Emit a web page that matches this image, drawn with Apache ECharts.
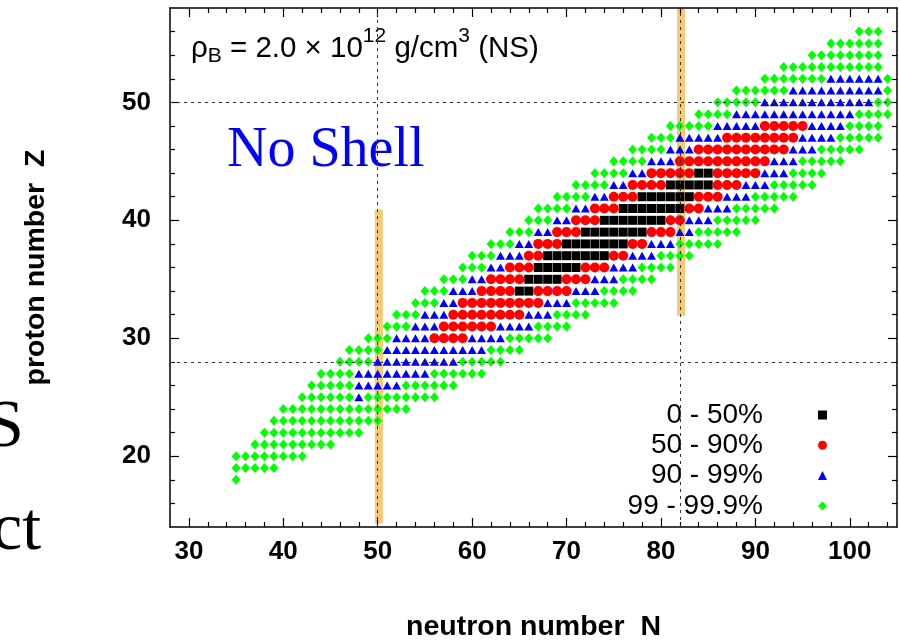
<!DOCTYPE html>
<html>
<head>
<meta charset="utf-8">
<script src="https://cdn.jsdelivr.net/npm/echarts@6/dist/echarts.min.js"></script>
<style>
  html, body { margin: 0; padding: 0; background: #ffffff; }
  #chart { width: 900px; height: 643px; }
</style>
</head>
<body>
<div id="chart"></div>
<script>
// Axis ranges and ticks
const nRange = [28, 105];
const zRange = [14, 58];
const nMajorTicks = [30, 40, 50, 60, 70, 80, 90, 100];
const nMinorTicks = [32, 34, 36, 38, 42, 44, 46, 48, 52, 54, 56, 58, 62, 64, 66, 68,
                     72, 74, 76, 78, 82, 84, 86, 88, 92, 94, 96, 98, 102, 104];
const zMajorTicks = [20, 30, 40, 50];
const zMinorTicks = [16, 18, 22, 24, 26, 28, 32, 34, 36, 38, 42, 44, 46, 48, 52, 54, 56];

// Magic numbers (dashed guide lines) and highlighted shell closures
const magicN = [50, 82];
const magicZ = [28, 50];
const shellN = [50, 82];
const shellZSpan = [[14.3, 40.9], [31.9, 58.5]];

const bandLabels = ['0 - 50%', '50 - 90%', '90 - 99%', '99 - 99.9%'];

// Nuclei in each cumulative-abundance band, as runs [Z, first N, last N]
const runs0to50 = [
  [34, 65, 66], [35, 66, 69], [36, 67, 71], [37, 68, 74], [38, 70, 76], [39, 72, 78],
  [40, 74, 80], [41, 76, 82], [42, 78, 83], [43, 81, 85], [44, 84, 85]
];
const runs50to90 = [
  [30, 56, 59], [31, 57, 62], [32, 58, 65], [33, 59, 67],
  [34, 61, 64], [34, 67, 70], [35, 62, 65], [35, 70, 72], [36, 64, 66], [36, 72, 74],
  [37, 66, 67], [37, 75, 76], [38, 67, 69], [38, 77, 78], [39, 69, 71], [39, 79, 81],
  [40, 71, 73], [40, 81, 82], [41, 73, 75], [41, 83, 84], [42, 75, 77], [42, 84, 86],
  [43, 77, 80], [43, 86, 88], [44, 79, 83], [44, 86, 90],
  [45, 82, 91], [46, 84, 93], [47, 87, 94], [48, 91, 95]
];
const runs90to99 = [
  [25, 48, 48], [26, 48, 52], [27, 48, 55], [28, 50, 58], [29, 51, 61],
  [30, 52, 55], [30, 60, 63], [31, 54, 56], [31, 63, 66], [32, 55, 57], [32, 66, 68],
  [33, 57, 58], [33, 68, 70], [34, 58, 60], [34, 71, 73], [35, 60, 61], [35, 73, 75],
  [36, 62, 63], [36, 75, 77], [37, 63, 65], [37, 77, 79], [38, 65, 66], [38, 79, 81],
  [39, 67, 68], [39, 82, 83], [40, 69, 70], [40, 83, 85], [41, 71, 72], [41, 85, 87],
  [42, 73, 74], [42, 87, 89], [43, 75, 76], [43, 89, 91], [44, 77, 78], [44, 91, 93],
  [45, 79, 81], [45, 92, 94], [46, 81, 83], [46, 94, 96], [47, 82, 86], [47, 95, 98],
  [48, 86, 90], [48, 96, 99], [49, 88, 100], [50, 91, 102], [51, 94, 103], [52, 98, 103]
];
const runs99to999 = [
  [18, 35, 35], [19, 35, 39], [20, 35, 42], [21, 37, 45], [22, 38, 48], [23, 39, 50],
  [24, 40, 53], [25, 42, 47], [25, 49, 56], [26, 43, 47], [26, 53, 58],
  [27, 44, 47], [27, 56, 61], [28, 46, 49], [28, 59, 63], [29, 47, 50], [29, 62, 65],
  [30, 49, 51], [30, 64, 68], [31, 51, 53], [31, 67, 70], [32, 52, 54], [32, 69, 72],
  [33, 54, 56], [33, 71, 75], [34, 55, 57], [34, 74, 77], [35, 57, 59], [35, 76, 79],
  [36, 59, 61], [36, 78, 81], [37, 60, 62], [37, 80, 83], [38, 62, 64], [38, 82, 86],
  [39, 64, 66], [39, 84, 88], [40, 66, 68], [40, 86, 90], [41, 67, 70], [41, 88, 92],
  [42, 69, 72], [42, 90, 94], [43, 71, 74], [43, 92, 96], [44, 73, 76], [44, 94, 97],
  [45, 75, 78], [45, 95, 99], [46, 77, 80], [46, 97, 101], [47, 79, 81], [47, 99, 103],
  [48, 81, 85], [48, 100, 103], [49, 84, 87], [49, 101, 104], [50, 86, 90], [50, 103, 104],
  [51, 88, 93], [51, 104, 104], [52, 91, 97], [52, 104, 104],
  [53, 93, 103], [54, 96, 103], [55, 98, 103], [56, 101, 103]
];

// Turn [Z, N1, N2] runs into individual (N, Z) points
function toPoints(runs) {
  const pts = [];
  runs.forEach(([z, n1, n2]) => {
    for (let n = n1; n <= n2; n++) pts.push([n, z]);
  });
  return pts;
}

const sansFont = "'Liberation Sans', Arial, Helvetica, sans-serif";
const serifFont = "'Liberation Serif', 'Times New Roman', serif";

function valueAxis(kind, position, ticks, tickLen, withLine, withLabels) {
  const isX = kind === 'x';
  const ax = {
    type: 'value',
    position: position,
    min: isX ? nRange[0] : zRange[0],
    max: isX ? nRange[1] : zRange[1],
    axisLine: { show: withLine, onZero: false, lineStyle: { color: '#000', width: 1.5 } },
    axisTick: { show: true, inside: true, length: tickLen, customValues: ticks,
                lineStyle: { color: '#000', width: 1.2 } },
    axisLabel: { show: false },
    splitLine: { show: false },
    minorTick: { show: false },
    z: 3
  };
  if (withLabels) {
    ax.axisLabel = {
      show: true, customValues: ticks, color: '#000', fontFamily: sansFont,
      fontWeight: 'bold', fontSize: 26, margin: isX ? 12 : 19
    };
  }
  return ax;
}

const xMain = valueAxis('x', 'bottom', nMajorTicks, 9, true, true);
xMain.name = 'neutron number  N';
xMain.nameLocation = 'middle';
xMain.nameGap = 86;
xMain.nameTextStyle = { color: '#000', fontFamily: sansFont, fontWeight: 'bold', fontSize: 28.5 };

const yMain = valueAxis('y', 'left', zMajorTicks, 9, true, true);
yMain.name = 'proton number  Z';
yMain.nameLocation = 'middle';
yMain.nameGap = 119;
yMain.nameTextStyle = { color: '#000', fontFamily: sansFont, fontWeight: 'bold', fontSize: 28.5 };

const bandStyles = [
  { symbol: 'rect', size: [9, 9], color: '#000000', runs: runs0to50 },
  { symbol: 'circle', size: 10, color: '#ff0000', runs: runs50to90 },
  { symbol: 'triangle', size: [9, 8], color: '#0000ff', runs: runs90to99 },
  { symbol: 'diamond', size: [9, 10], color: '#00ff00', runs: runs99to999 }
];

const series = bandStyles.map((b, i) => ({
  name: bandLabels[i],
  type: 'scatter',
  xAxisIndex: 0,
  yAxisIndex: 0,
  symbol: b.symbol,
  symbolSize: b.size,
  itemStyle: { color: b.color, opacity: 1 },
  data: toPoints(b.runs),
  silent: true,
  z: 3
}));

// dashed guide lines at magic numbers
series.push({
  type: 'scatter', xAxisIndex: 0, yAxisIndex: 0, data: [], z: 4, silent: true,
  markLine: {
    silent: true, symbol: 'none', animation: false,
    label: { show: false },
    lineStyle: { color: '#333', width: 1, type: [3, 4] },
    data: magicN.map(n => ({ xAxis: n })).concat(magicZ.map(z => ({ yAxis: z })))
  }
});

// translucent bars marking the N = 50 and N = 82 shell closures
series.push({
  type: 'scatter', xAxisIndex: 0, yAxisIndex: 0, data: [], z: 6, clip: false, silent: true,
  markArea: {
    silent: true, animation: false,
    itemStyle: { color: 'rgba(242, 182, 64, 0.72)' },
    data: shellN.map((n, i) => [
      { xAxis: n - 0.3, yAxis: shellZSpan[i][1] },
      { xAxis: n + 0.55, yAxis: shellZSpan[i][0] }
    ])
  }
});

const chart = echarts.init(document.getElementById('chart'), null, { renderer: 'canvas' });
chart.setOption({
  animation: false,
  backgroundColor: '#ffffff',
  grid: { left: 170, top: 8, width: 727, height: 519, containLabel: false, outerBoundsMode: 'none' },
  xAxis: [
    xMain,
    valueAxis('x', 'top', nMajorTicks, 9, true, false),
    valueAxis('x', 'bottom', nMinorTicks, 5, false, false),
    valueAxis('x', 'top', nMinorTicks, 5, false, false)
  ],
  yAxis: [
    yMain,
    valueAxis('y', 'right', zMajorTicks, 9, true, false),
    valueAxis('y', 'left', zMinorTicks, 5, false, false),
    valueAxis('y', 'right', zMinorTicks, 5, false, false)
  ],
  legend: {
    data: bandLabels,
    orient: 'vertical',
    align: 'right',
    right: 73,
    top: 401,
    itemWidth: 9,
    itemHeight: 9,
    itemGap: 2.3,
    padding: 0,
    selectedMode: false,
    formatter: name => '{t|' + name + '}',
    textStyle: {
      rich: {
        t: { fontFamily: sansFont, fontSize: 28, color: '#000', lineHeight: 27,
             padding: [0, 50, 0, 0] }
      }
    }
  },
  graphic: [
    {
      type: 'text', left: 191, top: 26, silent: true,
      style: {
        text: '{a|ρ}{s|B}{a| = 2.0 × 10}{p|12}{a| g/cm}{p|3}{a| (NS)}',
        rich: {
          a: { fontFamily: sansFont, fontSize: 29.5, fill: '#000', lineHeight: 40 },
          s: { fontFamily: sansFont, fontSize: 21, fill: '#000', lineHeight: 40, padding: [16, 0, 0, 0] },
          p: { fontFamily: sansFont, fontSize: 21, fill: '#000', lineHeight: 40, padding: [0, 0, 24, 0] }
        }
      }
    },
    {
      type: 'text', left: 227, top: 123, silent: true,
      style: { text: 'No Shell', fontFamily: serifFont, fontSize: 56, fill: '#0000ff' }
    },
    {
      type: 'text', left: -14, top: 394, silent: true,
      style: { text: 'S', fontFamily: serifFont, fontSize: 68, fill: '#000' }
    },
    {
      type: 'text', left: -8, top: 497, silent: true,
      style: { text: 'ct', fontFamily: serifFont, fontSize: 68, fill: '#000' }
    }
  ],
  series: series
});
</script>
</body>
</html>
